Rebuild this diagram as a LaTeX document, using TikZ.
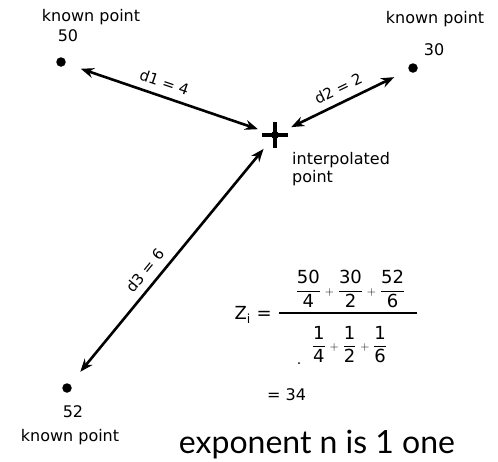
\documentclass[tikz,border=0pt]{standalone}
\usepackage{fontspec}
\usepackage{amsmath}
\setmainfont{DejaVu Sans}
\newfontfamily\bigfont{Lato}
\usetikzlibrary{arrows.meta}
\newcommand{\fr}[2]{\dfrac{\text{#1}}{\text{#2}}}
\newcommand{\pl}{\mathbin{\scriptstyle +}}

\begin{document}
\begin{tikzpicture}[x=1pt, y=-1pt,
  dot/.style={circle, fill, inner sep=0pt, minimum size=9.5pt},
  lbl/.style={font=\fontsize{16}{18}\selectfont, inner sep=0pt},
  frm/.style={font=\fontsize{18}{20}\selectfont, inner sep=0pt},
  dist/.style={{Stealth[length=13pt,width=10pt]}-{Stealth[length=13pt,width=10pt]}, line width=2.6pt, shorten <=16pt, shorten >=18pt},
  dlbl/.style={font=\fontsize{15}{15}\selectfont, sloped, above=7pt, inner sep=0pt}]
  \useasboundingbox (0,0) rectangle (498,461);
  % known points
  \node[dot] (p50) at (61,62) {};
  \node[dot] (p30) at (413,68) {};
  \node[dot] (p52) at (67,388) {};
  \node[lbl] (k50) at (91,17.5) {known point};
  \node[lbl] (v50) at (68,36) {50};
  \node[lbl] (k30) at (435,19.5) {known point};
  \node[lbl] (v30) at (434,50) {30};
  \node[lbl] (v52) at (73,412) {52};
  \node[lbl] (k52) at (70,437.5) {known point};
  % interpolated point
  \coordinate (ip) at (275,135);
  \draw[line width=3.2pt] (ip) ++(-13,0) -- ++(26,0) (ip) ++(0,-13) -- ++(0,26);
  \fill (ip) circle (4);
  \node[lbl, anchor=north west, align=left] (iplbl) at (292,152) {interpolated\\point};
  % distances
  \draw[dist] (p50) -- node[dlbl, pos=0.45] (d1) {d1 = 4} (ip);
  \draw[dist] (p30) -- node[dlbl, pos=0.48] (d2) {d2 = 2} (ip);
  \draw[dist] (p52) -- node[dlbl, pos=0.42] (d3) {d3 = 6} (ip);
  % formula
  \node[frm] (num) at (350.5,289) {$\fr{50}{4}\pl\fr{30}{2}\pl\fr{52}{6}$};
  \node[frm] (den) at (349.5,344.5) {$\fr{1}{4}\pl\fr{1}{2}\pl\fr{1}{6}$};
  \draw[line width=1.6pt] (279,313) -- (417,313);
  \fill (299,363) circle (1);
  \node[frm, anchor=east] (zi) at (272,315) {Z$_\text{i}$ =};
  \node[lbl, anchor=west] (res) at (267,395) {= 34};
  \node[font=\bigfont\fontsize{32}{32}\selectfont, anchor=base, inner sep=0pt] (note) at (317,453) {exponent n is 1 one};
\end{tikzpicture}
\end{document}
